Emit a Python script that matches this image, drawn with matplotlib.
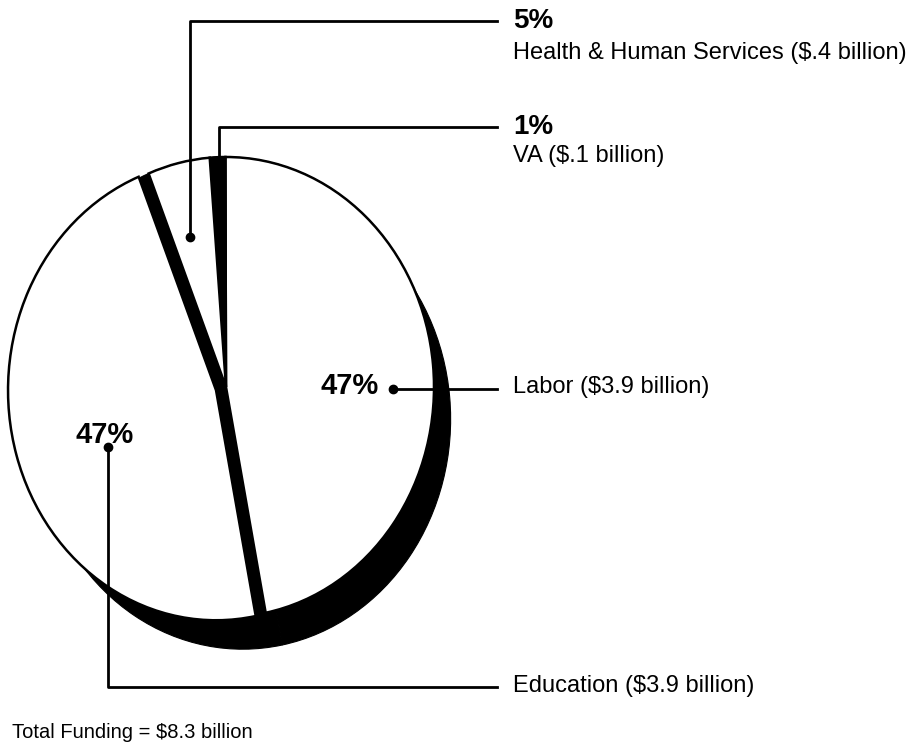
import matplotlib
matplotlib.use("Agg")
import matplotlib.pyplot as plt

plt.rcParams['font.family'] = ['Liberation Sans', 'DejaVu Sans']

# Data
agencies = ["Labor", "VA", "Health & Human Services", "Education"]
funding = [3.9, 0.1, 0.4, 3.9]          # $ billions
percents = ["47%", "1%", "5%", "47%"]
total_label = "Total Funding = $8.3 billion"


def money(v):
    s = f"{v:.1f}"
    if s.startswith("0."):
        s = s[1:]
    return f"(${s} billion)"


W, H = 924, 751
fig = plt.figure(figsize=(W / 100, H / 100), dpi=100)

# Overlay axes in pixel coordinates (y downwards) for annotations
ax = fig.add_axes([0, 0, 1, 1])
ax.set_xlim(0, W)
ax.set_ylim(H, 0)
ax.axis("off")

# Pie axes (elliptical face)
cx, cy, rx, ry = 226, 387, 208, 230
k = 1.35
pax = fig.add_axes([(cx - k * rx) / W, (H - cy - k * ry) / H,
                    2 * k * rx / W, 2 * k * ry / H])
start = -79
# side (depth) of the pie
pax.pie(funding, colors=["black"] * 4, startangle=start, counterclock=True,
        center=(0.08, -0.14), radius=1.0,
        wedgeprops=dict(linewidth=0.8, edgecolor="black"))
# black under-layer shown through the gaps of the exploded slice
pax.pie(funding, colors=["black"] * 4, startangle=start, counterclock=True,
        center=(0, 0), radius=1.0, wedgeprops=dict(linewidth=0.8, edgecolor="black"))
# top face
pax.pie(funding, colors=["white", "black", "white", "white"],
        explode=[0, 0, 0, 0.05], startangle=start, counterclock=True,
        center=(0, 0), radius=1.0,
        wedgeprops=dict(edgecolor="black", linewidth=1.8))
pax.set_aspect("auto")
pax.set_xlim(-k, k)
pax.set_ylim(-k, k)
pax.axis("off")
ax.set_zorder(5)
ax.patch.set_alpha(0)

lw = 2.0
tx = 513
lx = 497
fs_pct = 20
fs_lab = 17

# Health & Human Services
ax.plot([190, 190, lx], [237, 21, 21], color="black", lw=lw)
ax.plot([190], [237], "o", color="black", ms=6)
ax.text(tx, 21, percents[2], fontsize=fs_pct, fontweight="bold", va="center", ha="left")
ax.text(tx, 53, f"{agencies[2]} {money(funding[2])}",
        fontsize=fs_lab, va="center", ha="left")

# VA
ax.plot([219, 219, lx], [177, 127, 127], color="black", lw=lw)
ax.text(tx, 127, percents[1], fontsize=fs_pct, fontweight="bold", va="center", ha="left")
ax.text(tx, 156, f"{agencies[1]} {money(funding[1])}",
        fontsize=fs_lab, va="center", ha="left")

# Labor
ax.plot([393, lx], [389, 389], color="black", lw=lw)
ax.plot([393], [389], "o", color="black", ms=6)
ax.text(379, 386, percents[0], fontsize=21, fontweight="bold", va="center", ha="right")
ax.text(tx, 387, f"{agencies[0]} {money(funding[0])}",
        fontsize=fs_lab, va="center", ha="left")

# Education
ax.plot([108, 108, lx], [447, 687, 687], color="black", lw=lw)
ax.plot([108], [447], "o", color="black", ms=6)
ax.text(105, 435, percents[3], fontsize=21, fontweight="bold", va="center", ha="center")
ax.text(tx, 686, f"{agencies[3]} {money(funding[3])}",
        fontsize=fs_lab, va="center", ha="left")

ax.text(12, 733, total_label, fontsize=14.5, va="center", ha="left")

fig.savefig("out.png", dpi=100, facecolor="white")
